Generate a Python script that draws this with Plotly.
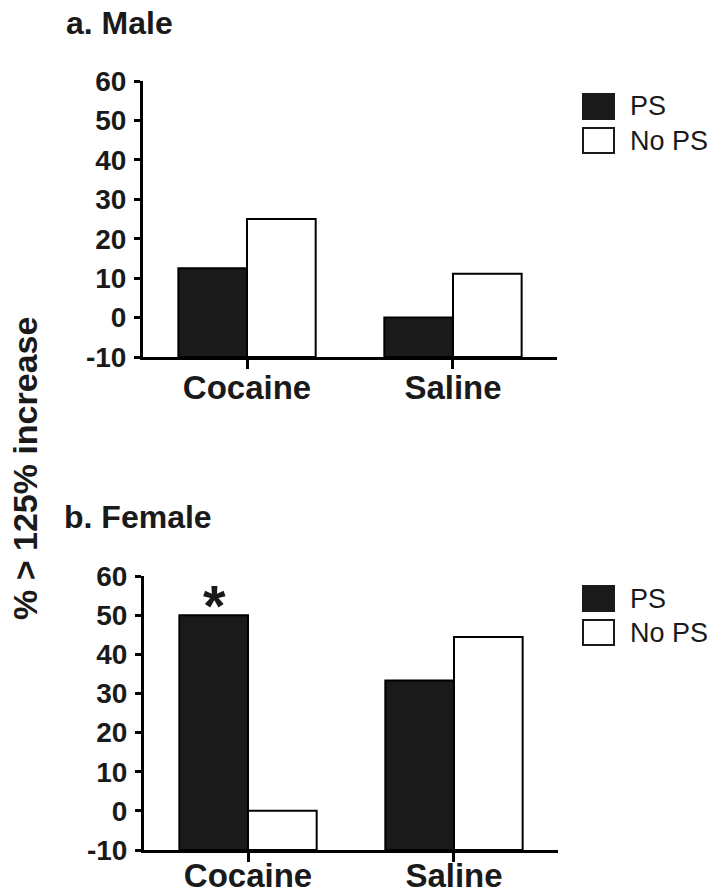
import plotly.graph_objects as go

# Percentage of animals showing a >125% increase, by drug and PS group
categories = ["Cocaine", "Saline"]
male_ps = [12.5, 0.0]
male_no_ps = [25.0, 11.1]
female_ps = [50.0, 33.3]
female_no_ps = [0.0, 44.4]
series_names = ["PS", "No PS"]
y_ticks = [-10, 0, 10, 20, 30, 40, 50, 60]
axis_floor = -10  # bars rise from the bottom of the axis

FONT = "Liberation Sans, Arial, Helvetica, sans-serif"
W, H = 722, 896
PS_FILL = "#1a1a1a"


def px(x):
    return x / W


def py(y):
    return 1 - y / H


fig = go.Figure()

panels = [
    ("x", "y", male_ps, male_no_ps),
    ("x2", "y2", female_ps, female_no_ps),
]
for xa, ya, ps_vals, nops_vals in panels:
    for name, vals, fill in ((series_names[0], ps_vals, PS_FILL),
                             (series_names[1], nops_vals, "white")):
        fig.add_trace(go.Bar(
            x=categories,
            y=[v - axis_floor for v in vals],
            base=axis_floor,
            name=name,
            customdata=vals,
            hovertemplate="%{x}: %{customdata}%<extra>" + name + "</extra>",
            marker=dict(color=fill, line=dict(color="black", width=2)),
            xaxis=xa, yaxis=ya,
            showlegend=False,
        ))

xaxis_style = dict(
    type="category", range=[-0.505, 1.505], automargin=False,
    showline=True, linecolor="black", linewidth=3,
    ticks="outside", ticklen=9, tickwidth=3, tickcolor="black",
    tickfont=dict(family=FONT, size=33, color="#1a1a1a", weight="bold"),
    ticklabelstandoff=-10,
    showgrid=False, zeroline=False, fixedrange=True,
)
yaxis_style = dict(
    range=[-10, 60], tickvals=y_ticks, ticktext=[str(t) for t in y_ticks],
    automargin=False,
    showline=True, linecolor="black", linewidth=3,
    ticks="outside", ticklen=6, tickwidth=3, tickcolor="black",
    tickfont=dict(family=FONT, size=28, color="#1a1a1a", weight="bold"),
    ticklabelstandoff=2,
    showgrid=False, zeroline=False, fixedrange=True,
)

fig.update_layout(
    width=W, height=H, autosize=False,
    margin=dict(l=0, r=0, t=0, b=0, autoexpand=False),
    paper_bgcolor="white", plot_bgcolor="white",
    bargap=1 / 3, bargroupgap=0, barmode="group",
    showlegend=False,
    xaxis=dict(xaxis_style, domain=[px(143), px(557)], anchor="y"),
    yaxis=dict(yaxis_style, domain=[py(357), py(81)], anchor="x"),
    xaxis2=dict(xaxis_style, domain=[px(144), px(558)], anchor="y2",
                ticklabelstandoff=-15),
    yaxis2=dict(yaxis_style, domain=[py(850), py(576)], anchor="x2"),
    font=dict(family=FONT, color="#1a1a1a"),
)

annotations = [
    dict(text="a. Male", x=px(64), y=py(23), xanchor="left", yanchor="middle",
         font=dict(size=32, weight="bold")),
    dict(text="b. Female", x=px(62), y=py(517), xanchor="left", yanchor="middle",
         font=dict(size=32, weight="bold")),
    dict(text="% > 125% increase", x=px(25), y=py(469), textangle=-90,
         xanchor="center", yanchor="middle", font=dict(size=34, weight="bold")),
]
for a in annotations:
    a.update(xref="paper", yref="paper", showarrow=False)
    a["font"] = dict(family=FONT, color="#1a1a1a", **a["font"])
fig.update_layout(annotations=annotations)

# significance marker over the female cocaine PS bar
fig.add_annotation(
    text="*", x=categories[0], y=female_ps[0], xref="x2", yref="y2",
    xshift=-34, yshift=-25, xanchor="center", yanchor="bottom", showarrow=False,
    font=dict(family=FONT, size=58, color="#1a1a1a", weight="bold"),
)

# legend swatches and labels for each panel
for top in (94, 586):
    swatches = [(top, PS_FILL, series_names[0]), (top + 34, "white", series_names[1])]
    for y0, fill, label in swatches:
        fig.add_shape(type="rect", xref="paper", yref="paper",
                      x0=px(583), x1=px(614), y0=py(y0 + 25), y1=py(y0),
                      fillcolor=fill, line=dict(color="#1a1a1a", width=2))
        fig.add_annotation(text=label, xref="paper", yref="paper",
                           x=px(628), y=py(y0 + 12.5), xanchor="left", yanchor="middle",
                           showarrow=False,
                           font=dict(family=FONT, size=27, color="#1a1a1a"))

fig.write_html("out.html")
